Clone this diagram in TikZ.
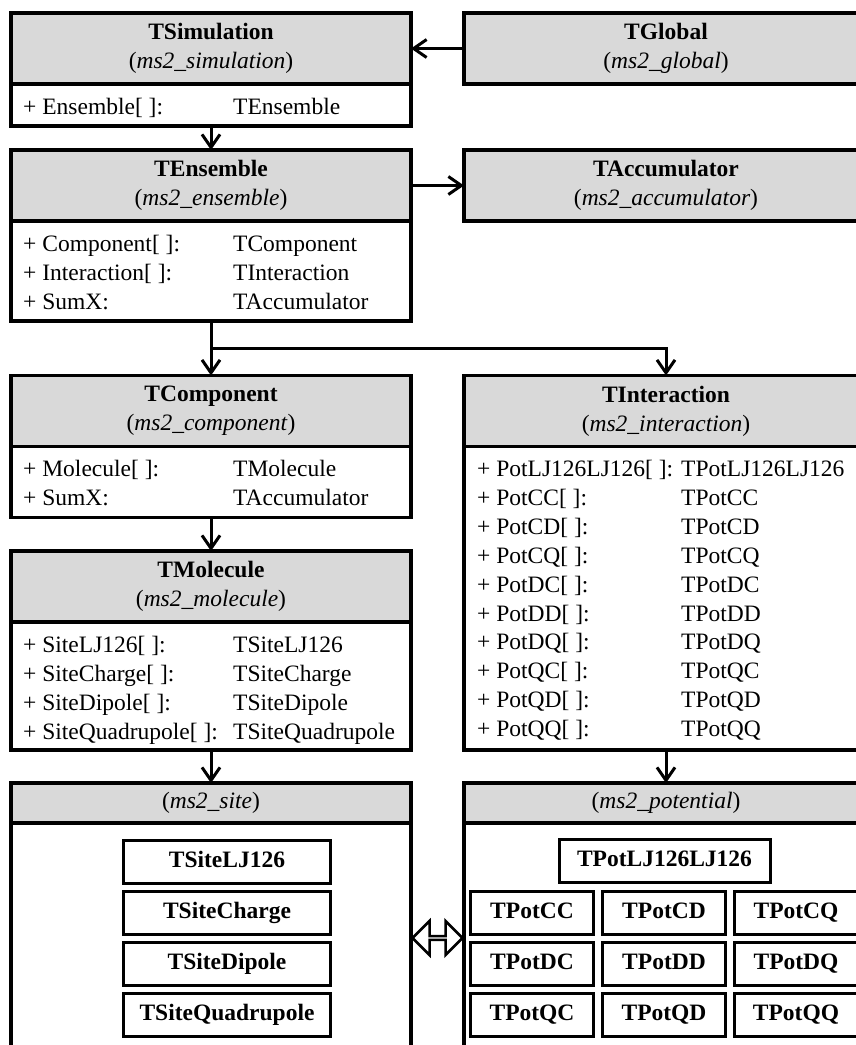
\documentclass[tikz,border=0pt]{standalone}
\usepackage{fontspec}
\setmainfont{Liberation Serif}
\usetikzlibrary{arrows.meta,shapes.arrows,calc}
\definecolor{hdrgray}{HTML}{D9D9D9}

\begin{document}
\begin{tikzpicture}[x=1pt,y=-1pt,
    font=\fontsize{23.5}{29}\selectfont,
    box/.style={draw, line width=3.5pt, inner sep=0pt, outer sep=0pt},
    hdr/.style={box, fill=hdrgray, minimum height=71pt, align=center},
    body/.style={box, fill=white, anchor=north},
    row/.style={anchor=base west, inner sep=0pt},
    cls/.style={draw, line width=3pt, minimum height=43pt, inner sep=0pt, outer sep=0pt,
      text height=16pt, text depth=5pt, font=\fontsize{23.5}{29}\selectfont\bfseries},
    arr/.style={line width=3pt, -{Straight Barb[length=13pt,width=18pt]}}]
    \def \lw {400pt} % left column
    \def \rw {404pt} % right column
    \def \top {30}   % first baseline below the header
    \def \skip {29}  % line spacing
    \path[use as bounding box, clip] (0,0) rectangle (856,1045);

    % top row
    \node[hdr, minimum width=\lw] (simh) at (211,48.5) {\textbf{TSimulation}\\(\textit{ms2\_simulation})};
    \node[body, minimum width=\lw, minimum height=42pt] (simb) at (simh.south) {};
    \node[row] (sim-n1) at ($(simb.north west)+(12,\top)$) {+ Ensemble[ ]:};
    \node[row] (sim-t1) at ($(simb.north west)+(222,\top)$) {TEnsemble};
    \node[hdr, minimum width=\rw] (globh) at (666,48.5) {\textbf{TGlobal}\\(\textit{ms2\_global})};

    % ensemble
    \node[hdr, minimum width=\lw] (ensh) at (211,185.5) {\textbf{TEnsemble}\\(\textit{ms2\_ensemble})};
    \node[body, minimum width=\lw, minimum height=100pt] (ensb) at (ensh.south) {};
    \foreach \n/\t [count=\i] in {Component[ ]:/TComponent, Interaction[ ]:/TInteraction, SumX:/TAccumulator}
    {
      \node[row] (ens-n\i) at ($(ensb.north west)+(12,\top+\skip*\i-\skip)$) {+ \n};
      \node[row] (ens-t\i) at ($(ensb.north west)+(222,\top+\skip*\i-\skip)$) {\t};
    }
    \node[hdr, minimum width=\rw] (acch) at (666,185.5) {\textbf{TAccumulator}\\(\textit{ms2\_accumulator})};

    % component and molecule
    \node[hdr, minimum width=\lw] (comph) at (211,411) {\textbf{TComponent}\\(\textit{ms2\_component})};
    \node[body, minimum width=\lw, minimum height=71pt] (compb) at (comph.south) {};
    \foreach \n/\t [count=\i] in {Molecule[ ]:/TMolecule, SumX:/TAccumulator}
    {
      \node[row] (comp-n\i) at ($(compb.north west)+(12,\top+\skip*\i-\skip)$) {+ \n};
      \node[row] (comp-t\i) at ($(compb.north west)+(222,\top+\skip*\i-\skip)$) {\t};
    }
    \node[hdr, minimum width=\lw] (molh) at (211,586.5) {\textbf{TMolecule}\\(\textit{ms2\_molecule})};
    \node[body, minimum width=\lw, minimum height=128pt] (molb) at (molh.south) {};
    \foreach \n [count=\i] in {LJ126, Charge, Dipole, Quadrupole}
    {
      \node[row] (mol-n\i) at ($(molb.north west)+(12,\top+\skip*\i-\skip)$) {+ Site\n[ ]:};
      \node[row] (mol-t\i) at ($(molb.north west)+(222,\top+\skip*\i-\skip)$) {TSite\n};
    }

    % interaction
    \node[hdr, minimum width=\rw] (inth) at (666,411) {\textbf{TInteraction}\\(\textit{ms2\_interaction})};
    \node[body, minimum width=\rw, minimum height=303.5pt] (intb) at (inth.south) {};
    \foreach \n [count=\i] in {LJ126LJ126, CC, CD, CQ, DC, DD, DQ, QC, QD, QQ}
    {
      \node[row] (int-n\i) at ($(intb.north west)+(13,\top+28.9*\i-28.9)$) {+ Pot\n[ ]:};
      \node[row] (int-t\i) at ($(intb.north west)+(217,\top+28.9*\i-28.9)$) {TPot\n};
    }

    % sites
    \node[hdr, minimum width=\lw, minimum height=40pt] (siteh) at (211,803) {(\textit{ms2\_site})};
    \node[body, minimum width=\lw, minimum height=230pt] (siteb) at (siteh.south) {};
    \foreach \s [count=\i] in {LJ126, Charge, Dipole, Quadrupole}
      \node[cls, minimum width=207pt] (site-\i) at (227,861.5+51*\i-51) {TSite\s};

    % potentials
    \node[hdr, minimum width=\rw, minimum height=40pt] (poth) at (666,803) {(\textit{ms2\_potential})};
    \node[body, minimum width=\rw, minimum height=230pt] (potb) at (poth.south) {};
    \node[cls, minimum width=211pt] (pot-lj) at (664.5,861) {TPotLJ126LJ126};
    \foreach \r [count=\i] in {C,D,Q}
      \foreach \c/\x in {C/532, D/664, Q/796}
        \node[cls, minimum width=123pt] (pot-\r\c) at (\x,861.5+51*\i) {TPot\r\c};

    % connectors
    \draw[arr] (globh.west) -- (simh.east);
    \draw[arr] (simb.south) -- (ensh.north);
    \draw[arr] (ensh.east) -- (acch.west);
    \draw[arr] (ensb.south) -- (comph.north);
    \draw[arr] (ensb.south) -- ++(0,27) -| (inth.north);
    \draw[arr] (compb.south) -- (molh.north);
    \draw[arr] (molb.south) -- (siteh.north);
    \draw[arr] (intb.south) -- (poth.north);
    \node[double arrow, draw, line width=2.5pt, fill=white, inner sep=0pt,
      minimum width=34pt, minimum height=50pt, double arrow head extend=10pt]
      (link) at ($(siteb.east)!0.5!(potb.west)$) {};
\end{tikzpicture}
\end{document}
